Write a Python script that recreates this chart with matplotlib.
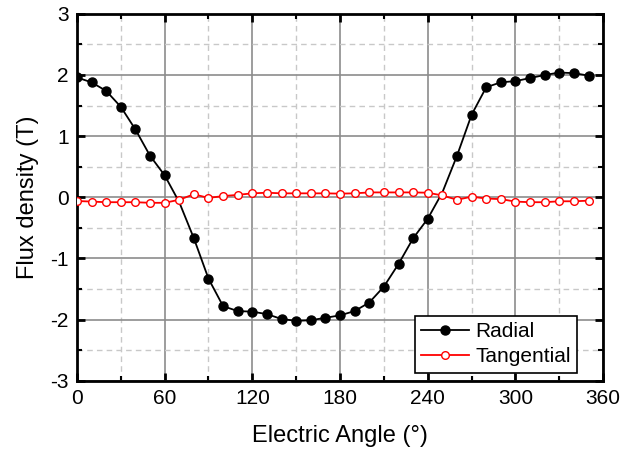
import numpy as np
import matplotlib
matplotlib.use("Agg")
import matplotlib.pyplot as plt
from matplotlib.ticker import MultipleLocator

plt.rcParams['font.family'] = ['Liberation Sans', 'DejaVu Sans']
plt.rcParams['axes.unicode_minus'] = False

angle = np.arange(0, 360, 10)
radial = [1.96, 1.88, 1.74, 1.48, 1.11, 0.68, 0.36, -0.08, -0.67, -1.33,
          -1.78, -1.86, -1.87, -1.91, -1.99, -2.02, -2.01, -1.97, -1.93, -1.86,
          -1.72, -1.46, -1.09, -0.67, -0.35, 0.08, 0.68, 1.35, 1.80, 1.88,
          1.90, 1.95, 2.00, 2.04, 2.03, 1.99]
tangential = [-0.06, -0.07, -0.08, -0.08, -0.08, -0.09, -0.09, -0.04, 0.05, -0.01,
              0.02, 0.04, 0.065, 0.075, 0.065, 0.065, 0.065, 0.065, 0.06, 0.065,
              0.08, 0.08, 0.08, 0.08, 0.075, 0.03, -0.04, 0.01, -0.02, -0.03,
              -0.07, -0.08, -0.08, -0.065, -0.065, -0.055]
# radial markers near the zero crossings are hidden in the original
radial_marks = [i for i in range(len(angle)) if i not in (7, 25)]

fig = plt.figure(figsize=(6.41, 4.61), dpi=100)
ax = fig.add_axes([0.120, 0.174, 0.821, 0.796])

ax.plot(angle, radial, color='black', lw=1.3, marker='o', ms=6.5,
        mfc='black', mec='black', markevery=radial_marks, label='Radial', zorder=3)
ax.plot(angle, tangential, color='red', lw=1.3, marker='o', ms=5.5,
        mfc='white', mec='red', mew=1.0, label='Tangential', zorder=4)

ax.set_xlim(0, 360)
ax.set_ylim(-3, 3)
ax.xaxis.set_major_locator(MultipleLocator(60))
ax.xaxis.set_minor_locator(MultipleLocator(30))
ax.yaxis.set_major_locator(MultipleLocator(1))
ax.yaxis.set_minor_locator(MultipleLocator(0.5))

ax.grid(which='major', color='#8c8c8c', lw=1.2, ls='-', zorder=0)
ax.grid(which='minor', color='#c8c8c8', lw=1.0, ls=(0, (4, 3)), zorder=0)
ax.set_axisbelow(True)

ax.tick_params(which='both', direction='in', top=True, right=True,
               labelsize=15, pad=6)
ax.tick_params(which='major', length=6, width=2)
ax.tick_params(which='minor', length=3.5, width=1.5)
for s in ax.spines.values():
    s.set_linewidth(2)

ax.set_xlabel('Electric Angle (°)', fontsize=17, labelpad=12)
ax.set_ylabel('Flux density (T)', fontsize=17, labelpad=8)

leg = ax.legend(loc='lower right', bbox_to_anchor=(0.951, 0.022),
                borderaxespad=0, fontsize=15, fancybox=False,
                edgecolor='black', framealpha=1, handlelength=2.3,
                borderpad=0.3, labelspacing=0.3, handletextpad=0.3)
leg.get_frame().set_linewidth(1.2)

fig.savefig('out.png', dpi=100)
